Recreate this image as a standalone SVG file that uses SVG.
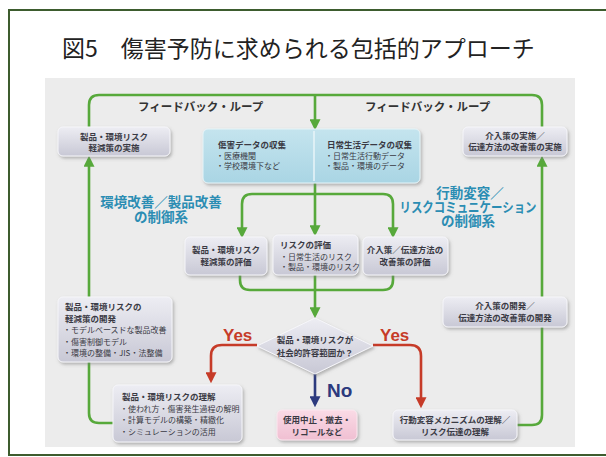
<svg xmlns="http://www.w3.org/2000/svg" width="606" height="457" viewBox="0 0 606 457">
<style>
.jp{font-family:"Noto Sans CJK JP","Noto Sans",sans-serif}
.bt{font-family:"Noto Sans CJK JP",sans-serif;font-size:8.5px;font-weight:bold;fill:#3a3a44}
.bl{font-family:"Noto Sans CJK JP",sans-serif;font-size:8px;fill:#3a3a44}
.c{text-anchor:middle}
.box{fill:url(#gbox);stroke:#f6f6fa;stroke-width:1;filter:url(#sh)}
.g{fill:none;stroke:#57a93b;stroke-width:2.6}
.r{fill:none;stroke:#c63b28;stroke-width:2.6}
.n{fill:none;stroke:#2c3a7e;stroke-width:2.6}
.blue{font-family:"Noto Sans CJK JP",sans-serif;font-size:13.5px;font-weight:bold;fill:#2b8db3;text-anchor:middle}
.fb{font-family:"Noto Sans CJK JP",sans-serif;font-size:11.5px;font-weight:bold;fill:#333}
.yes{font-family:"Liberation Sans",Arial,sans-serif;font-size:17px;font-weight:bold;fill:#c63b28}
</style>
<defs>
<linearGradient id="gbox" x1="0" y1="0" x2="0" y2="1"><stop offset="0" stop-color="#ededf3"/><stop offset="1" stop-color="#c8c8d5"/></linearGradient>
<linearGradient id="gblue" x1="0" y1="0" x2="0" y2="1"><stop offset="0" stop-color="#c4e4ee"/><stop offset="1" stop-color="#a9d5e4"/></linearGradient>
<linearGradient id="gpink" x1="0" y1="0" x2="0" y2="1"><stop offset="0" stop-color="#fadbe6"/><stop offset="1" stop-color="#f0bfd2"/></linearGradient>
<filter id="sh" x="-10%" y="-20%" width="125%" height="150%"><feDropShadow dx="1.5" dy="2" stdDeviation="1.5" flood-color="#777" flood-opacity="0.5"/></filter>
<marker id="ag" viewBox="0 0 10 10" refX="7" refY="5" markerWidth="11" markerHeight="11" markerUnits="userSpaceOnUse" orient="auto"><path d="M0,0 L10,5 L0,10 z" fill="#57a93b"/></marker>
<marker id="ar" viewBox="0 0 10 10" refX="7" refY="5" markerWidth="11" markerHeight="11" markerUnits="userSpaceOnUse" orient="auto"><path d="M0,0 L10,5 L0,10 z" fill="#c63b28"/></marker>
<marker id="an" viewBox="0 0 10 10" refX="7" refY="5" markerWidth="11" markerHeight="11" markerUnits="userSpaceOnUse" orient="auto"><path d="M0,0 L10,5 L0,10 z" fill="#2c3a7e"/></marker>
</defs>
<rect x="0" y="0" width="606" height="457" fill="#fff"/>
<rect x="9" y="10" width="610" height="445" fill="#fff" stroke="#3d5c2e" stroke-width="2"/>
<text class="jp" x="62" y="57" font-size="23" fill="#222">図5　傷害予防に求められる包括的アプローチ</text>
<rect x="45" y="78" width="530" height="369" fill="#ececec"/>

<g id="connectors">
<path class="g" d="M89,127 V105 Q89,95 99,95 H532 Q542,95 542,105 V127"/>
<path class="g" d="M315,95 V127" marker-end="url(#ag)"/>
<path class="g" d="M89,297 V159" marker-end="url(#ag)"/>
<path class="g" d="M89,362 V413 Q89,423 99,423 H113"/>
<path class="g" d="M517,425 H532 Q542,425 542,415 V327"/>
<path class="g" d="M542,297 V159" marker-end="url(#ag)"/>
<path class="g" d="M315,183 V233" marker-end="url(#ag)"/>
<path class="g" d="M315,194 H252 Q242,194 242,204 V235" marker-end="url(#ag)"/>
<path class="g" d="M315,194 H383 Q393,194 393,204 V235" marker-end="url(#ag)"/>
<path class="g" d="M240,275 V280 Q240,290 250,290 H383 Q393,290 393,280 V275"/>
<path class="g" d="M315,275 V315" marker-end="url(#ag)"/>
<path class="r" d="M257,345 H222 Q211,345 211,356 V380" marker-end="url(#ar)"/>
<path class="r" d="M373,345 H410 Q421,345 421,356 V405" marker-end="url(#ar)"/>
<path class="n" d="M315,373 V404" marker-end="url(#an)"/>
</g>

<text class="fb" x="138" y="111">フィードバック・ループ</text>
<text class="fb" x="365" y="111">フィードバック・ループ</text>

<g id="n_impl_left">
<rect class="box" x="58" y="127" width="112" height="29" rx="5"/>
<text class="bt c" x="114" y="140">製品・環境リスク</text>
<text class="bt c" x="114" y="151">軽減策の実施</text>
</g>

<g id="n_data">
<rect x="203" y="129" width="217" height="54" rx="5" fill="url(#gblue)" stroke="#e6f4f8" filter="url(#sh)"/>
<line x1="314" y1="131" x2="314" y2="181" stroke="#e8f4f8" stroke-width="1.5"/>
<text class="bt" x="218" y="148">傷害データの収集</text>
<text class="bl" x="216" y="159">・医療機関</text>
<text class="bl" x="216" y="169">・学校環境下など</text>
<text class="bt" x="327" y="148">日常生活データの収集</text>
<text class="bl" x="325" y="159">・日常生活行動データ</text>
<text class="bl" x="325" y="169">・製品・環境のデータ</text>
</g>

<g id="n_impl_right">
<rect class="box" x="463" y="127" width="104" height="29" rx="5"/>
<text class="bt c" x="515" y="139">介入策の実施／</text>
<text class="bt c" x="515" y="150">伝達方法の改善策の実施</text>
</g>

<text class="blue"><tspan x="161" y="207">環境改善／製品改善</tspan><tspan x="161" y="222">の制御系</tspan></text>
<text class="blue"><tspan x="470" y="198">行動変容／</tspan><tspan x="468" y="212" textLength="137" lengthAdjust="spacingAndGlyphs">リスクコミュニケーション</tspan><tspan x="468" y="226">の制御系</tspan></text>

<g id="n_eval1">
<rect class="box" x="185" y="237" width="82" height="38" rx="5"/>
<text class="bt c" x="226" y="253">製品・環境リスク</text>
<text class="bt c" x="226" y="265">軽減策の評価</text>
</g>
<g id="n_eval2">
<rect class="box" x="273" y="235" width="85" height="40" rx="5"/>
<text class="bt" x="280" y="248">リスクの評価</text>
<text class="bl" x="280" y="260">・日常生活のリスク</text>
<text class="bl" x="280" y="270">・製品・環境のリスク</text>
</g>
<g id="n_eval3">
<rect class="box" x="363" y="237" width="85" height="38" rx="5"/>
<text class="bt c" x="405" y="253">介入策／伝達方法の</text>
<text class="bt c" x="405" y="265">改善策の評価</text>
</g>

<g id="n_dev_left">
<rect class="box" x="58" y="297" width="114" height="65" rx="5"/>
<text class="bt" x="65" y="310">製品・環境リスクの</text>
<text class="bt" x="65" y="321.5">軽減策の開発</text>
<text class="bl" x="63" y="333">・モデルベースドな製品改善</text>
<text class="bl" x="63" y="344.5">・傷害制御モデル</text>
<text class="bl" x="63" y="356">・環境の整備・JIS・法整備</text>
</g>

<g id="n_dev_right">
<rect class="box" x="443" y="297" width="124" height="30" rx="5"/>
<text class="bt c" x="505" y="309">介入策の開発／</text>
<text class="bt c" x="505" y="321">伝達方法の改善策の開発</text>
</g>

<g id="n_decision">
<polygon points="315,318 373,346 315,374 257,346" fill="url(#gbox)" stroke="#f6f6fa" filter="url(#sh)"/>
<text class="bt c" x="315" y="343">製品・環境リスクが</text>
<text class="bt c" x="315" y="356">社会的許容範囲か？</text>
</g>

<text class="yes" x="223" y="341">Yes</text>
<text class="yes" x="380" y="341">Yes</text>
<text x="327" y="397" font-family="Liberation Sans,Arial,sans-serif" font-size="19" font-weight="bold" fill="#2c3a7e">No</text>

<g id="n_understand_left">
<rect class="box" x="113" y="385" width="129" height="57" rx="5"/>
<text class="bt" x="122" y="400">製品・環境リスクの理解</text>
<text class="bl" x="120" y="411.5">・使われ方・傷害発生過程の解明</text>
<text class="bl" x="120" y="423">・計算モデルの構築・精緻化</text>
<text class="bl" x="120" y="434.5">・シミュレーションの活用</text>
</g>

<g id="n_stop">
<rect x="277" y="410" width="80" height="30" rx="5" fill="url(#gpink)" stroke="#fbe8ef" filter="url(#sh)"/>
<text class="bt c" x="317" y="423">使用中止・撤去・</text>
<text class="bt c" x="317" y="435">リコールなど</text>
</g>

<g id="n_understand_right">
<rect class="box" x="393" y="410" width="124" height="30" rx="5"/>
<text class="bt c" x="455" y="423">行動変容メカニズムの理解／</text>
<text class="bt c" x="455" y="435">リスク伝達の理解</text>
</g>
</svg>
